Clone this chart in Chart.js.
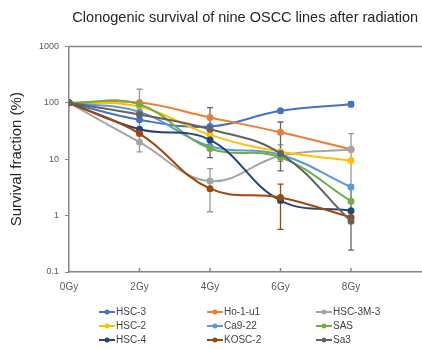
<!DOCTYPE html>
<html>
<head>
<meta charset="utf-8">
<script src="https://cdn.jsdelivr.net/npm/chart.js@4.4.1/dist/chart.umd.min.js"></script>
<style>
    html, body { margin: 0; padding: 0; background: #fff; overflow: hidden; }
    #wrap { position: relative; width: 426px; height: 349px; }
</style>
</head>
<body>
<div id="wrap"><canvas id="chart"></canvas></div>
<script>
// Doses (x) and axis ticks
const DOSES = [0, 2, 4, 6, 8];
const X_TICKS = [0, 2, 4, 6, 8, 10];
const Y_TICKS = [0.1, 1, 10, 100, 1000];

// Survival fraction (%) per cell line
const HSC_3    = [100, 50, 38, 72, 94];
const HO_1_U1  = [100, 101, 55, 30, 15];
const HSC_3M_3 = [100, 20, 4.1, 11.5, 14.8];
const HSC_2    = [100, 86, 27, 13.5, 9.5];
const CA9_22   = [100, 69, 17, 12, 3.2];
const SAS      = [100, 94, 15.5, 10.8, 1.8];
const HSC_4    = [100, 34, 22, 1.85, 1.22];
const KOSC_2   = [100, 28.5, 3.0, 2.1, 0.93];
const SA3      = [100, 62, 34, 12.6, 0.79];

// Error bar bounds (low / high), null = no bar
const HSC_3_LO    = [null, null, null, null, 86];
const HSC_3_HI    = [null, null, null, null, 104];
const HSC_3M_3_LO = [null, 13.5, 1.17, 9.2, 3.5];
const HSC_3M_3_HI = [null, 174, 6.8, 18, 28.5];
const SA3_LO      = [null, null, 10.7, 6.2, 0.245];
const SA3_HI      = [null, null, 82, 45.7, 3.0];
const KOSC_2_LO   = [null, null, null, 0.57, null];
const KOSC_2_HI   = [null, null, null, 3.6, null];

const NAMES = ['HSC-3', 'Ho-1-u1', 'HSC-3M-3', 'HSC-2', 'Ca9-22', 'SAS', 'HSC-4', 'KOSC-2', 'Sa3'];
const VALUES = [HSC_3, HO_1_U1, HSC_3M_3, HSC_2, CA9_22, SAS, HSC_4, KOSC_2, SA3];
const LOWS  = [HSC_3_LO, null, HSC_3M_3_LO, null, null, null, null, KOSC_2_LO, SA3_LO];
const HIGHS = [HSC_3_HI, null, HSC_3M_3_HI, null, null, null, null, KOSC_2_HI, SA3_HI];
const COLORS = ['#4472C4', '#ED7D31', '#A5A5A5', '#FFC000', '#5B9BD5', '#70AD47', '#264478', '#9E480E', '#636363'];

const FONT = "'Liberation Sans', Arial, sans-serif";
const AXIS_GRAY = '#868686';

// error bars, drawn under the lines
const errorBars = {
    id: 'errorBars',
    beforeDatasetsDraw(chart) {
        const { ctx, scales: { x, y } } = chart;
        ctx.save();
        ctx.lineWidth = 1.3;
        LOWS.forEach((lo, i) => {
            if (!lo) return;
            ctx.strokeStyle = i === 2 ? '#999999' : COLORS[i];
            lo.forEach((l, j) => {
                const h = HIGHS[i][j];
                if (l == null || h == null) return;
                const px = x.getPixelForValue(DOSES[j]);
                const y1 = y.getPixelForValue(l), y2 = y.getPixelForValue(h);
                ctx.beginPath();
                ctx.moveTo(px, y1); ctx.lineTo(px, y2);
                ctx.moveTo(px - 3, y1); ctx.lineTo(px + 3, y1);
                ctx.moveTo(px - 3, y2); ctx.lineTo(px + 3, y2);
                ctx.stroke();
            });
        });
        ctx.restore();
    }
};

// top frame line, inside x ticks and the 3-column legend
const extras = {
    id: 'extras',
    afterDraw(chart) {
        const { ctx, chartArea: a, scales: { x } } = chart;
        ctx.save();
        ctx.strokeStyle = AXIS_GRAY;
        ctx.lineWidth = 1.5;
        ctx.beginPath();
        ctx.moveTo(a.left, a.top);
        ctx.lineTo(chart.width, a.top);
        DOSES.slice(1).forEach(d => {
            const px = x.getPixelForValue(d);
            ctx.moveTo(px, a.bottom);
            ctx.lineTo(px, a.bottom - 4);
        });
        ctx.stroke();

        const colX = [99, 207, 316];
        const rowY = [312, 326, 340];
        ctx.font = '10px ' + FONT;
        ctx.textBaseline = 'middle';
        ctx.textAlign = 'left';
        NAMES.forEach((name, i) => {
            const lx = colX[i % 3], ly = rowY[Math.floor(i / 3)];
            ctx.strokeStyle = COLORS[i];
            ctx.fillStyle = COLORS[i];
            ctx.lineWidth = 2;
            ctx.beginPath();
            ctx.moveTo(lx, ly); ctx.lineTo(lx + 16, ly);
            ctx.stroke();
            ctx.beginPath();
            ctx.arc(lx + 8, ly, 2.5, 0, Math.PI * 2);
            ctx.fill();
            ctx.fillStyle = '#404040';
            ctx.fillText(name, lx + 17, ly + 0.5);
        });
        ctx.restore();
    }
};

new Chart(document.getElementById('chart'), {
    type: 'line',
    data: {
        datasets: NAMES.map((name, i) => ({
            label: name,
            data: DOSES.map((d, j) => ({ x: d, y: VALUES[i][j] })),
            borderColor: COLORS[i],
            backgroundColor: COLORS[i],
            pointBackgroundColor: COLORS[i],
            pointBorderColor: COLORS[i],
            pointRadius: 2.5,
            pointHoverRadius: 2.5,
            borderWidth: 2,
            tension: 0.4,
            fill: false,
            order: NAMES.length - i
        }))
    },
    options: {
        responsive: true,
        maintainAspectRatio: false,
        animation: false,
        layout: { padding: { top: 0, left: 0, right: -8, bottom: 52 } },
        scales: {
            x: {
                type: 'linear',
                min: 0,
                max: 10,
                afterBuildTicks: s => { s.ticks = X_TICKS.map(v => ({ value: v })); },
                afterFit: s => { s.height = 25; s.paddingRight = 0; s.paddingLeft = 0; },
                ticks: {
                    padding: 9,
                    color: '#595959',
                    font: { family: FONT, size: 10 },
                    maxRotation: 0,
                    callback: v => (v <= 8 ? v + 'Gy' : '')
                },
                grid: { display: false, drawTicks: false },
                border: { display: true, color: AXIS_GRAY, width: 1.5 }
            },
            y: {
                type: 'logarithmic',
                min: 0.1,
                max: 1000,
                afterBuildTicks: s => { s.ticks = Y_TICKS.map(v => ({ value: v })); },
                afterFit: s => { s.width = 69; },
                ticks: {
                    padding: 6,
                    color: '#595959',
                    font: { family: FONT, size: 9 },
                    callback: v => String(v)
                },
                grid: { drawOnChartArea: false, drawTicks: true, tickLength: 4, color: AXIS_GRAY },
                border: { display: true, color: AXIS_GRAY, width: 1.5 },
                title: {
                    display: true,
                    text: 'Survival fraction (%)',
                    color: '#262626',
                    font: { family: FONT, size: 15 },
                    padding: { top: 8, bottom: 0 }
                }
            }
        },
        plugins: {
            legend: { display: false },
            tooltip: { enabled: false },
            title: {
                display: true,
                fullSize: false,
                text: 'Clonogenic survival of nine OSCC lines after radiation',
                color: '#262626',
                font: { family: FONT, size: 14.5, weight: 'normal' },
                padding: { top: 9, bottom: 20 }
            }
        }
    },
    plugins: [errorBars, extras]
});
</script>
</body>
</html>
